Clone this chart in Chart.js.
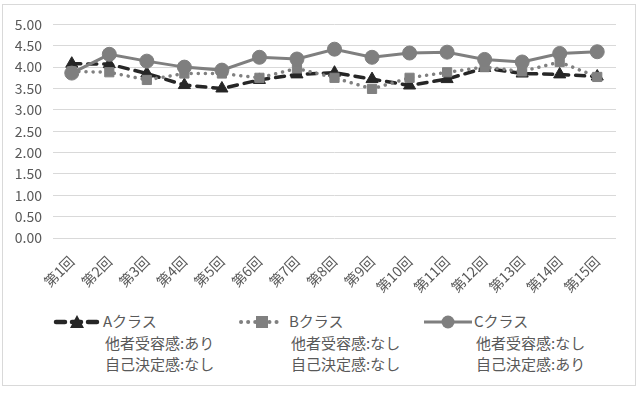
<!DOCTYPE html>
<html>
<head>
<meta charset="utf-8">
<script src="https://cdn.jsdelivr.net/npm/chart.js@4/dist/chart.umd.min.js"></script>
<style>
  body { margin: 0; background: #fff; font-family: "Noto Sans CJK JP", sans-serif; }
  #box { position: absolute; left: 2px; top: 4px; width: 632px; height: 380px; border: 1px solid #d9d9d9; }
  #wrap { position: absolute; left: 0; top: 0; width: 632px; height: 300px; }
  .lg { position: absolute; font-size: 15px; color: #595959; line-height: 20px; white-space: nowrap; }
  .sym { position: absolute; }
</style>
</head>
<body>
<div id="box">
  <div id="wrap"><canvas id="chart"></canvas></div>
</div>
<div id="legend"></div>
<script>
const rounds = ['第1回','第2回','第3回','第4回','第5回','第6回','第7回','第8回','第9回','第10回','第11回','第12回','第13回','第14回','第15回'];
const classA = [4.08, 4.07, 3.85, 3.58, 3.50, 3.70, 3.83, 3.87, 3.72, 3.57, 3.72, 3.98, 3.85, 3.83, 3.78];
const classB = [3.90, 3.88, 3.70, 3.85, 3.85, 3.75, 3.97, 3.75, 3.49, 3.75, 3.88, 4.00, 3.90, 4.12, 3.77];
const classC = [3.86, 4.30, 4.14, 4.00, 3.93, 4.23, 4.19, 4.42, 4.23, 4.33, 4.35, 4.18, 4.12, 4.32, 4.36];
const yTicks = [0, 0.5, 1, 1.5, 2, 2.5, 3, 3.5, 4, 4.5, 5];

const legendItems = [
  { name: 'Aクラス', l2: '他者受容感:あり', l3: '自己決定感:なし', x: 53, tx: 103 },
  { name: 'Bクラス', l2: '他者受容感:なし', l3: '自己決定感:なし', x: 238, tx: 289 },
  { name: 'Cクラス', l2: '他者受容感:なし', l3: '自己決定感:あり', x: 424, tx: 474 }
];

const font = { family: '"Noto Sans CJK JP", sans-serif', size: 14 };

new Chart(document.getElementById('chart'), {
  type: 'line',
  data: {
    labels: rounds,
    datasets: [
      {
        label: 'Aクラス', data: classA, order: 3,
        borderColor: '#262626', backgroundColor: '#262626', borderWidth: 3.5,
        borderDash: [9, 7], borderCapStyle: 'round',
        pointStyle: 'triangle', pointRadius: 7, pointBorderWidth: 1
      },
      {
        label: 'Bクラス', data: classB, order: 2,
        borderColor: '#808080', backgroundColor: '#808080', borderWidth: 3.5,
        borderDash: [0.1, 7], borderCapStyle: 'round',
        pointStyle: 'rect', pointRadius: 6.5, pointBorderWidth: 1
      },
      {
        label: 'Cクラス', data: classC, order: 1,
        borderColor: '#7f7f7f', backgroundColor: '#7f7f7f', borderWidth: 3,
        pointStyle: 'circle', pointRadius: 7, pointBorderWidth: 1
      }
    ]
  },
  options: {
    responsive: true,
    maintainAspectRatio: false,
    animation: false,
    layout: { padding: { top: 18, right: 19, left: 0, bottom: 0 } },
    plugins: { legend: { display: false }, tooltip: { enabled: false } },
    scales: {
      x: {
        offset: true,
        grid: { display: false },
        border: { display: false },
        ticks: { color: '#595959', font, maxRotation: 45, minRotation: 45, padding: 7 },
        afterFit: s => { s.height = 67; }
      },
      y: {
        min: 0, max: 5,
        afterBuildTicks: s => { s.ticks = yTicks.map(v => ({ value: v })); },
        grid: { color: '#d9d9d9', drawTicks: false },
        border: { display: false },
        ticks: { color: '#595959', font, padding: 11, callback: v => v.toFixed(2) },
        afterFit: s => { s.width = 50; }
      }
    }
  }
});

// legend below the plot
const lg = document.getElementById('legend');
const marks = [
  '<line x1="3" y1="8" x2="45" y2="8" stroke="#262626" stroke-width="4.5" stroke-dasharray="9 7" stroke-linecap="round"/><polygon points="24,1 31,14 17,14" fill="#262626"/>',
  '<line x1="3" y1="8" x2="45" y2="8" stroke="#808080" stroke-width="4" stroke-dasharray="0.1 7" stroke-linecap="round"/><rect x="18" y="2" width="12" height="12" fill="#808080"/>',
  '<line x1="0" y1="8" x2="48" y2="8" stroke="#7f7f7f" stroke-width="3"/><circle cx="24" cy="8" r="6.5" fill="#7f7f7f"/>'
];
legendItems.forEach((it, i) => {
  lg.insertAdjacentHTML('beforeend',
    '<svg class="sym" width="48" height="16" style="left:' + it.x + 'px;top:314px">' + marks[i] + '</svg>' +
    '<div class="lg" style="left:' + it.tx + 'px;top:311px">' + it.name + '</div>' +
    '<div class="lg" style="left:' + (it.tx + 2) + 'px;top:333px">' + it.l2 + '</div>' +
    '<div class="lg" style="left:' + (it.tx + 2) + 'px;top:354px">' + it.l3 + '</div>');
});
</script>
</body>
</html>
